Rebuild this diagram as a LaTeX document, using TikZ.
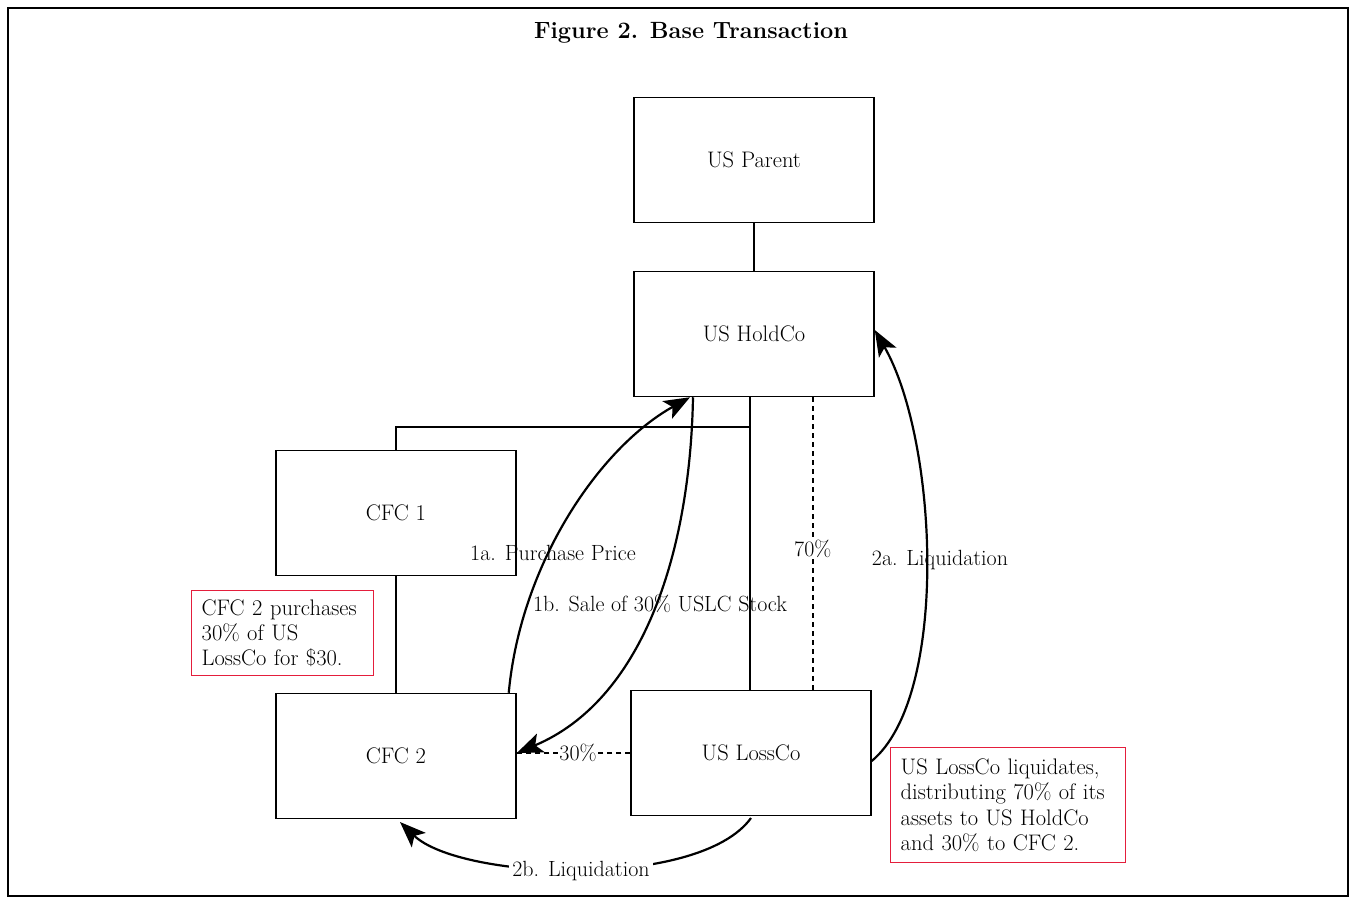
\documentclass[tikz,border=0pt]{standalone}
\usepackage{fontspec}
\usetikzlibrary{arrows.meta,calc}
\definecolor{notered}{RGB}{228,30,60}
\begin{document}
\begin{tikzpicture}[x=1pt,y=-1pt,
  box/.style={draw,line width=1.5pt,minimum width=240pt,minimum height=125pt,inner sep=0pt,font=\fontsize{22.5}{27}\selectfont},
  lbl/.style={font=\fontsize{22}{27}\selectfont,inner sep=1pt},
  note/.style={draw=notered,line width=1.4pt,align=left,font=\fontsize{22.5}{25.4}\selectfont,inner xsep=10pt,inner ysep=4pt,anchor=north west},
  arr/.style={line width=2.2pt,-{Stealth[length=26pt,width=20pt,inset=6pt]}},
  link/.style={line width=1.5pt},
  dlink/.style={line width=1.5pt,dash pattern=on 5pt off 4pt}]
\useasboundingbox (0,0) rectangle (1351,899);
\draw[line width=2pt] (8,8) rectangle (1348,896);
\node[font=\fontsize{23.5}{28}\selectfont\bfseries] (title) at (691,33) {Figure 2. Base Transaction};

\node[box] (parent) at (754,160) {US Parent};
\node[box] (holdco) at (754,334) {US HoldCo};
\node[box] (cfc1) at (396,513) {CFC 1};
\node[box] (cfc2) at (396,756) {CFC 2};
\node[box] (lossco) at (751,753) {US LossCo};

% ownership lines
\draw[link] (parent.south) -- (parent.south |- holdco.north);
\coordinate (hb) at ([xshift=-4pt]holdco.south);
\draw[link] (hb) -- (hb |- lossco.north);
\coordinate (j) at (750,427);
\draw[link] (j) -| (cfc1.north);
\draw[link] (cfc1.south) -- (cfc2.north);
\coordinate (d1) at ([xshift=-62pt]holdco.south east);
\draw[dlink] (d1) -- (d1 |- lossco.north) node[lbl,pos=0.52,fill=white] (p70) {70\%};
\draw[dlink] (lossco.west) -- (lossco.west -| cfc2.east) node[lbl,pos=0.46,fill=white] (p30) {30\%};

% transaction arrows
\coordinate (a1s) at ([xshift=-8pt]cfc2.north east);
\coordinate (a1e) at ([xshift=-64pt]holdco.south);
\draw[arr] (a1s) .. controls +(12,-130) and +(-90,50) .. (a1e);
\coordinate (b1s) at ([xshift=-61pt]holdco.south);
\coordinate (b1e) at (lossco.west -| cfc2.east);
\draw[arr] (b1s) .. controls +(-3,160) and +(124,-52) .. (b1e);
\node[lbl] (l1a) at (553,553) {1a. Purchase Price};
\node[lbl] (l1b) at (660,604) {1b. Sale of 30\% USLC Stock};

\coordinate (a2s) at ([yshift=-8pt]lossco.east);
\coordinate (a2e) at ([yshift=4pt]holdco.east);
\draw[arr] (a2s) .. controls +(78,-65) and +(63,110) .. (a2e);
\node[lbl] (l2a) at (940,560) {2a. Liquidation};

\coordinate (b2s) at (751,818);
\coordinate (b2e) at (400,822);
\draw[arr] (b2s) .. controls +(-52,72) and +(60,58) .. (b2e);
\node[lbl,fill=white,inner sep=3pt] (l2b) at (581,871) {2b. Liquidation};

% notes
\node[note,text width=162pt,minimum height=85pt] (n1) at (191,590) {CFC 2 purchases\\30\% of US\\LossCo for \$30.};
\node[note,text width=215pt,minimum height=115pt] (n2) at (890,747) {US LossCo liquidates,\\distributing 70\% of its\\assets to US HoldCo\\and 30\% to CFC 2.};
\end{tikzpicture}
\end{document}
